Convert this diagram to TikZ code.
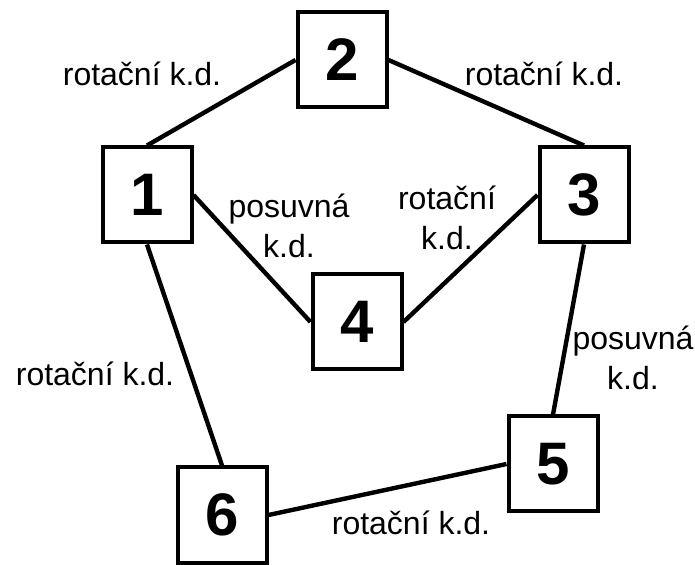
\documentclass[tikz,border=0pt]{standalone}
\usepackage{fontspec}
\setmainfont{Liberation Sans}
\begin{document}
\begin{tikzpicture}
[x=0.5pt,y=-0.5pt,
  blockdecorate/.style={shape=rectangle,draw,line width=2pt,minimum width=44.5pt,%
    minimum height=47.5pt,inner sep=0pt,font=\fontsize{30}{36}\selectfont\bfseries},%
  linedecorate/.style={-,line width=2.2pt},%
  labeldecorate/.style={inner sep=0pt,align=center,font=\fontsize{16}{20}\selectfont}]
\useasboundingbox (0,0) rectangle (695,565);
% bodies of the mechanism
\node (b1) at (147,195) [blockdecorate] {1};
\node (b2) at (342,60) [blockdecorate] {2};
\node (b3) at (584,195) [blockdecorate] {3};
\node (b4) at (357,322) [blockdecorate] {4};
\node (b5) at (553,464) [blockdecorate] {5};
\node (b6) at (222,515) [blockdecorate] {6};
% kinematic pairs
\node (l12) at (142,74) [labeldecorate] {rotační k.d.};
\node (l23) at (544,74) [labeldecorate] {rotační k.d.};
\node (l14) at (289,226) [labeldecorate] {posuvná\\k.d.};
\node (l43) at (447,218) [labeldecorate] {rotační\\k.d.};
\node (l35) at (633,358) [labeldecorate] {posuvná\\k.d.};
\node (l16) at (95,374) [labeldecorate] {rotační k.d.};
\node (l56) at (411,523) [labeldecorate] {rotační k.d.};
% links
\path
(b1.north) edge[linedecorate] (b2.west)
(b2.east) edge[linedecorate] (b3.north)
(b1.east) edge[linedecorate] (b4.west)
(b4.east) edge[linedecorate] (b3.west)
(b3.south) edge[linedecorate] (b5.north)
(b5.west) edge[linedecorate] (b6.east)
(b1.south) edge[linedecorate] (b6.north);
\end{tikzpicture}
\end{document}
